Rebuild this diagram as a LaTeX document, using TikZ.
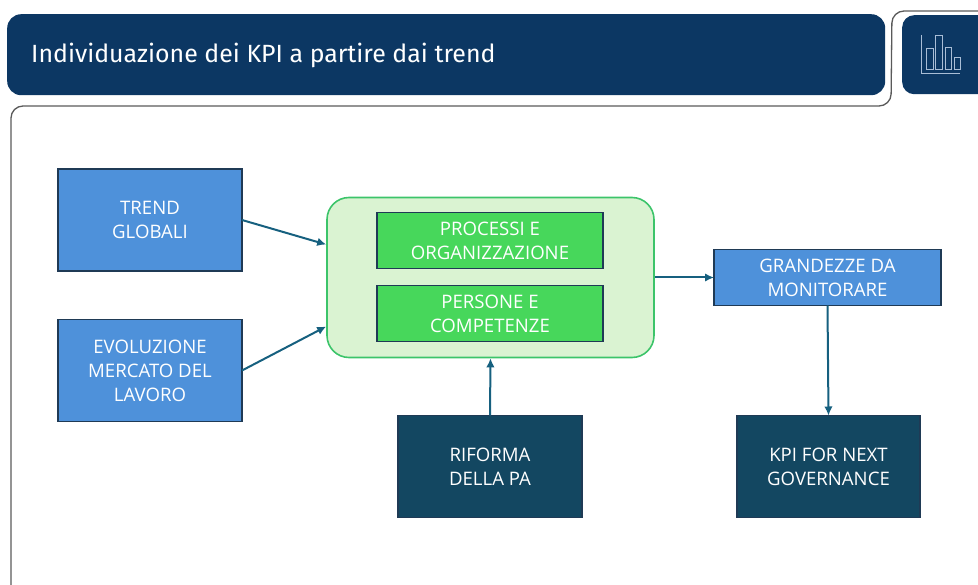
\documentclass[tikz,border=0pt]{standalone}
\usepackage{fontspec}
\setmainfont{Open Sans}
\newfontfamily\titlefont{Fira Sans}
\usetikzlibrary{arrows.meta,calc}
\definecolor{navy}{HTML}{0C3763}
\definecolor{boxblue}{HTML}{4E91DA}
\definecolor{boxedge}{HTML}{1F3A55}
\definecolor{teal}{HTML}{134761}
\definecolor{arrowc}{HTML}{16607F}
\definecolor{greenfill}{HTML}{DAF3D2}
\definecolor{greenedge}{HTML}{3CC46A}
\definecolor{greenbox}{HTML}{47D75B}
\definecolor{iconline}{HTML}{A9BDD6}
\definecolor{framec}{HTML}{5A5A5A}
\tikzset{
  x=1pt,y=-1pt,
  boxtext/.style={text=white,font=\fontsize{18.6}{24}\selectfont,align=center,inner sep=0pt,outer sep=0pt,draw=boxedge,line width=1.5pt},
  bluebox/.style={boxtext,fill=boxblue},
  darkbox/.style={boxtext,fill=teal},
  greenb/.style={boxtext,fill=greenbox},
  conn/.style={draw=arrowc,line width=2pt,-{Latex[length=9pt,width=8.5pt]}},
  iconbar/.style={draw=iconline,line width=0.9pt},
}
\begin{document}
\begin{tikzpicture}
\useasboundingbox (0,0) rectangle (978,585);
% frame
\coordinate (f1) at (978,11);
\coordinate (f2) at (892,11);
\coordinate (f3) at (891,106);
\coordinate (f4) at (11,106);
\coordinate (f5) at (11,585);
\draw[framec,line width=1.3pt,rounded corners=12pt] (f1) -- (f2) -- (f3) -- (f4) -- (f5);
% title bar
\node[fill=navy,rounded corners=14pt,minimum width=878pt,minimum height=81pt,inner sep=0pt,anchor=north west] (bar) at (7,14) {};
\node[anchor=west,text=white,font=\titlefont\fontsize{24.9}{30}\selectfont,inner sep=0pt] (title) at (31,55) {Individuazione dei KPI a partire dai trend};
% icon
\node[fill=navy,rounded corners=12pt,minimum width=90pt,minimum height=79pt,inner sep=0pt,anchor=north west] (ic) at (902,15) {};
\draw[iconbar] (921,35) -- (921,73) -- (960,73);
\draw[iconbar] (926,48) rectangle (933,69);
\draw[iconbar] (935,35) rectangle (942,69);
\draw[iconbar] (945,47) rectangle (951,69);
\draw[iconbar] (954,57) rectangle (960,69);
% boxes
\node[bluebox,minimum width=184pt,minimum height=102pt] (trend) at (150,220) {TREND\\GLOBALI};
\node[bluebox,minimum width=184pt,minimum height=102pt] (evol) at (150,370.5) {EVOLUZIONE\\MERCATO DEL\\LAVORO};
\node[fill=greenfill,draw=greenedge,line width=1.6pt,rounded corners=22pt,minimum width=327pt,minimum height=160pt,inner sep=0pt] (center) at (490.5,277.5) {};
\node[greenb,minimum width=226pt,minimum height=56pt] (proc) at (490,240.5) {PROCESSI E\\ORGANIZZAZIONE};
\node[greenb,minimum width=226pt,minimum height=56pt] (pers) at (490,313.5) {PERSONE E\\COMPETENZE};
\node[bluebox,minimum width=227pt,minimum height=56pt] (grand) at (827.5,277.5) {GRANDEZZE DA\\MONITORARE};
\node[darkbox,minimum width=184pt,minimum height=102pt] (rif) at (490,466.5) {RIFORMA\\DELLA PA};
\node[darkbox,minimum width=183pt,minimum height=102pt] (kpi) at (828.5,466.5) {KPI FOR NEXT\\GOVERNANCE};
% connectors
\coordinate (inA) at ($(center.west)+(0,-33)$);
\coordinate (inB) at ($(center.west)+(0,49)$);
\draw[conn] (trend.east) -- (inA);
\draw[conn] (evol.east) -- (inB);
\draw[conn] (center.east) -- (grand.west);
\draw[conn] (rif.north) -- (center.south);
\draw[conn] (grand.south) -- (kpi.north);
\end{tikzpicture}
\end{document}
